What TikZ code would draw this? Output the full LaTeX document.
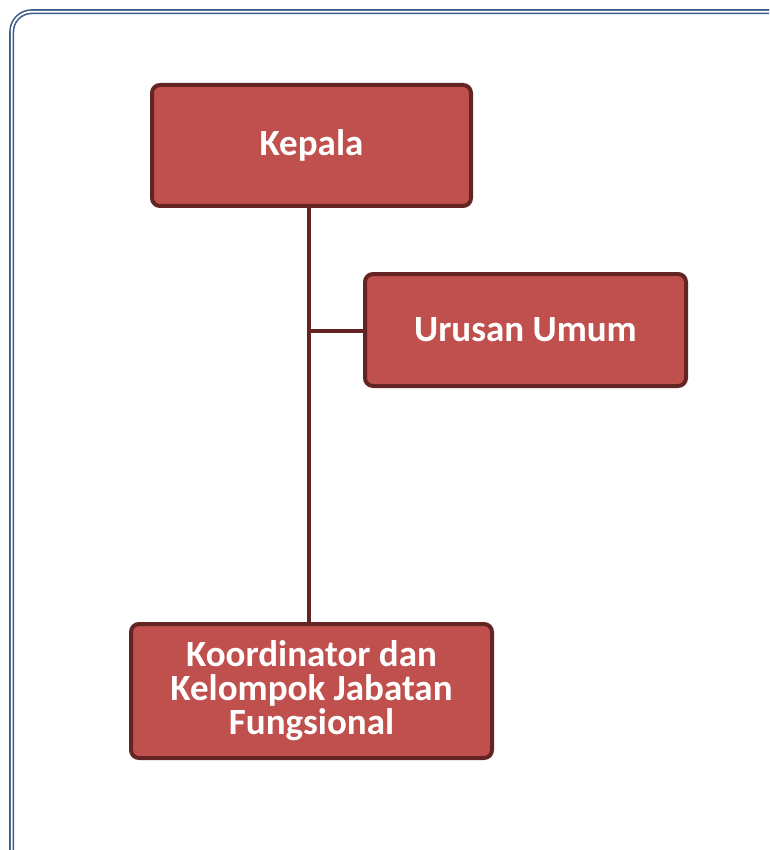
\documentclass[tikz,border=0pt]{standalone}
\usepackage{fontspec}
\setmainfont{Carlito}
\definecolor{boxfill}{HTML}{C0504D}
\definecolor{boxline}{HTML}{632523}
\definecolor{frameblue}{HTML}{3A5A88}
\begin{document}
\begin{tikzpicture}[x=1pt,y=-1pt,
  orgbox/.style={draw=boxline, line width=4pt, fill=boxfill, rounded corners=8pt,
    inner sep=0pt, text=white, font=\fontsize{37}{34}\selectfont\bfseries, align=center},
  link/.style={draw=boxline, line width=4pt}]
\useasboundingbox (0,0) rectangle (769,850);
\begin{scope}
\clip (0,0) rectangle (769,850);
\draw[frameblue, line width=1.6pt, double=white, double distance=1.8pt, rounded corners=20pt]
  (11.7,11.7) rectangle (790,875);
\end{scope}
\node[orgbox, minimum width=319pt, minimum height=121pt] (kepala) at (311.5,145.5) {Kepala};
\node[orgbox, minimum width=321pt, minimum height=112pt] (urusan) at (525.5,330) {Urusan Umum};
\node[orgbox, minimum width=361pt, minimum height=134pt] (koord) at (311.5,691)
  {Koordinator dan\\Kelompok Jabatan\\Fungsional};
\coordinate (trunk) at (309,331);
\draw[link] (kepala.south -| trunk) -- (koord.north -| trunk);
\draw[link] (trunk) -- (urusan.west |- trunk);
\end{tikzpicture}
\end{document}
